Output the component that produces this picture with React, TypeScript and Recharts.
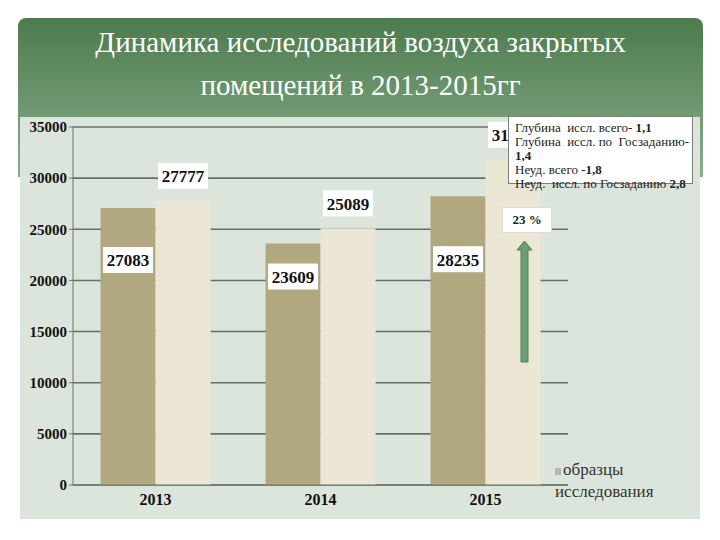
import { Bar, BarChart, CartesianGrid, LabelList, XAxis, YAxis } from 'recharts'

const YEARS = ['2013', '2014', '2015']
const SAMPLES = [27083, 23609, 28235]
const STUDIES = [27777, 25089, 31800]
const Y_TICKS = [0, 5000, 10000, 15000, 20000, 25000, 30000, 35000]
const SERIES_NAMES = ['образцы', 'исследования']
const GROWTH = '23 %'
const NOTES = [
  { text: 'Глубина  иссл. всего- ', bold: '1,1' },
  { text: 'Глубина  иссл. по  Госзаданию-', bold: '' },
  { text: '', bold: '1,4' },
  { text: 'Неуд. всего -', bold: '1,8' },
  { text: 'Неуд.  иссл. по Госзаданию ', bold: '2,8' },
]

const SERIF = '"Liberation Serif", "DejaVu Serif", serif'
// how far below the bar top each inner label sits
const INNER_DY = [52, 33, 63]

const data = YEARS.map((year, i) => ({ year, samples: SAMPLES[i], studies: STUDIES[i] }))

function ValueBox({ cx, cy, value }: { cx: number; cy: number; value: number | string }) {
  return (
    <g>
      <rect x={cx - 25} y={cy - 13} width={50} height={26} fill="#fff" />
      <text
        x={cx}
        y={cy + 1}
        textAnchor="middle"
        dominantBaseline="central"
        fontFamily={SERIF}
        fontWeight={700}
        fontSize={17}
        fill="#111"
      >
        {value}
      </text>
    </g>
  )
}

const innerLabel = (p: any) => (
  <ValueBox cx={Number(p.x) + Number(p.width) / 2} cy={Number(p.y) + INNER_DY[p.index]} value={p.value} />
)
const outerLabel = (p: any) => (
  <ValueBox cx={Number(p.x) + Number(p.width) / 2} cy={Number(p.y) - 25} value={p.value} />
)

export default function App() {
  return (
    <div style={{ position: 'absolute', left: 0, top: 0, width: 720, height: 540, background: '#fff', overflow: 'hidden' }}>
      {/* green title plate */}
      <div
        style={{
          position: 'absolute',
          left: 18,
          top: 18,
          width: 685,
          height: 159,
          borderRadius: '8px 8px 0 0',
          background: 'linear-gradient(#4c7b4d, #8bae8b)',
        }}
      />
      <div
        style={{
          position: 'absolute',
          left: 18,
          top: 21,
          width: 685,
          textAlign: 'center',
          color: '#fff',
          fontFamily: SERIF,
          fontSize: 29,
          lineHeight: '43px',
        }}
      >
        Динамика исследований воздуха закрытых
        <br />
        помещений в 2013-2015гг
      </div>
      {/* chart panel */}
      <div style={{ position: 'absolute', left: 20, top: 117, width: 680, height: 402, background: '#dce5dc' }} />

      <div style={{ position: 'absolute', left: 0, top: 0 }}>
        <BarChart
          width={720}
          height={540}
          data={data}
          margin={{ top: 127, right: 152, bottom: 30, left: 13 }}
          barCategoryGap="16.7%"
          barGap={0}
        >
          <CartesianGrid vertical={false} stroke="#65706a" strokeWidth={1.6} />
          <XAxis
            dataKey="year"
            height={25}
            axisLine={{ stroke: '#6a746f' }}
            tickLine={false}
            tick={{ fontFamily: SERIF, fontWeight: 700, fontSize: 16, fill: '#111' }}
            tickMargin={3}
          />
          <YAxis
            width={60}
            domain={[0, 35000]}
            ticks={Y_TICKS}
            axisLine={{ stroke: '#6a746f' }}
            tickLine={{ stroke: '#6a746f' }}
            tickSize={4}
            tick={{ fontFamily: SERIF, fontWeight: 700, fontSize: 15, fill: '#111' }}
          />
          <Bar dataKey="samples" name={SERIES_NAMES[0]} fill="#b1a880" isAnimationActive={false}>
            <LabelList dataKey="samples" content={innerLabel} />
          </Bar>
          <Bar dataKey="studies" name={SERIES_NAMES[1]} fill="#ece7d4" isAnimationActive={false}>
            <LabelList dataKey="studies" content={outerLabel} />
          </Bar>
        </BarChart>
      </div>

      {/* notes box */}
      <div
        style={{
          position: 'absolute',
          left: 508,
          top: 116,
          width: 185,
          height: 68,
          background: '#fff',
          border: '1.5px solid #7d7d7d',
          fontFamily: SERIF,
          fontSize: 13,
          lineHeight: '14px',
          color: '#222',
          paddingLeft: 6,
          paddingTop: 4,
          boxSizing: 'border-box',
          whiteSpace: 'pre',
          overflow: 'visible',
        }}
      >
        {NOTES.map((n, i) => (
          <div key={i}>
            {n.text}
            <b>{n.bold}</b>
          </div>
        ))}
      </div>

      {/* growth arrow */}
      <div
        style={{
          position: 'absolute',
          left: 502,
          top: 207,
          width: 50,
          height: 26,
          background: '#fff',
          border: '1px solid #ddd',
          boxSizing: 'border-box',
          fontFamily: SERIF,
          fontWeight: 700,
          fontSize: 13,
          lineHeight: '24px',
          textAlign: 'center',
          color: '#222',
        }}
      >
        {GROWTH}
      </div>
      <svg style={{ position: 'absolute', left: 514, top: 240 }} width={22} height={125}>
        <polygon points="3,10 10.5,1 18,10 14,10 14,122 7,122 7,10" fill="#6c9e73" stroke="#4f7f57" strokeWidth={1} />
      </svg>

      {/* legend */}
      <div
        style={{
          position: 'absolute',
          left: 555,
          top: 459,
          fontFamily: SERIF,
          fontSize: 17,
          lineHeight: '22px',
          color: '#333',
        }}
      >
        <span style={{ display: 'inline-block', width: 6, height: 7, background: '#b9b9a2', marginRight: 2 }} />
        {SERIES_NAMES[0]}
        <br />
        {SERIES_NAMES[1]}
      </div>
    </div>
  )
}
